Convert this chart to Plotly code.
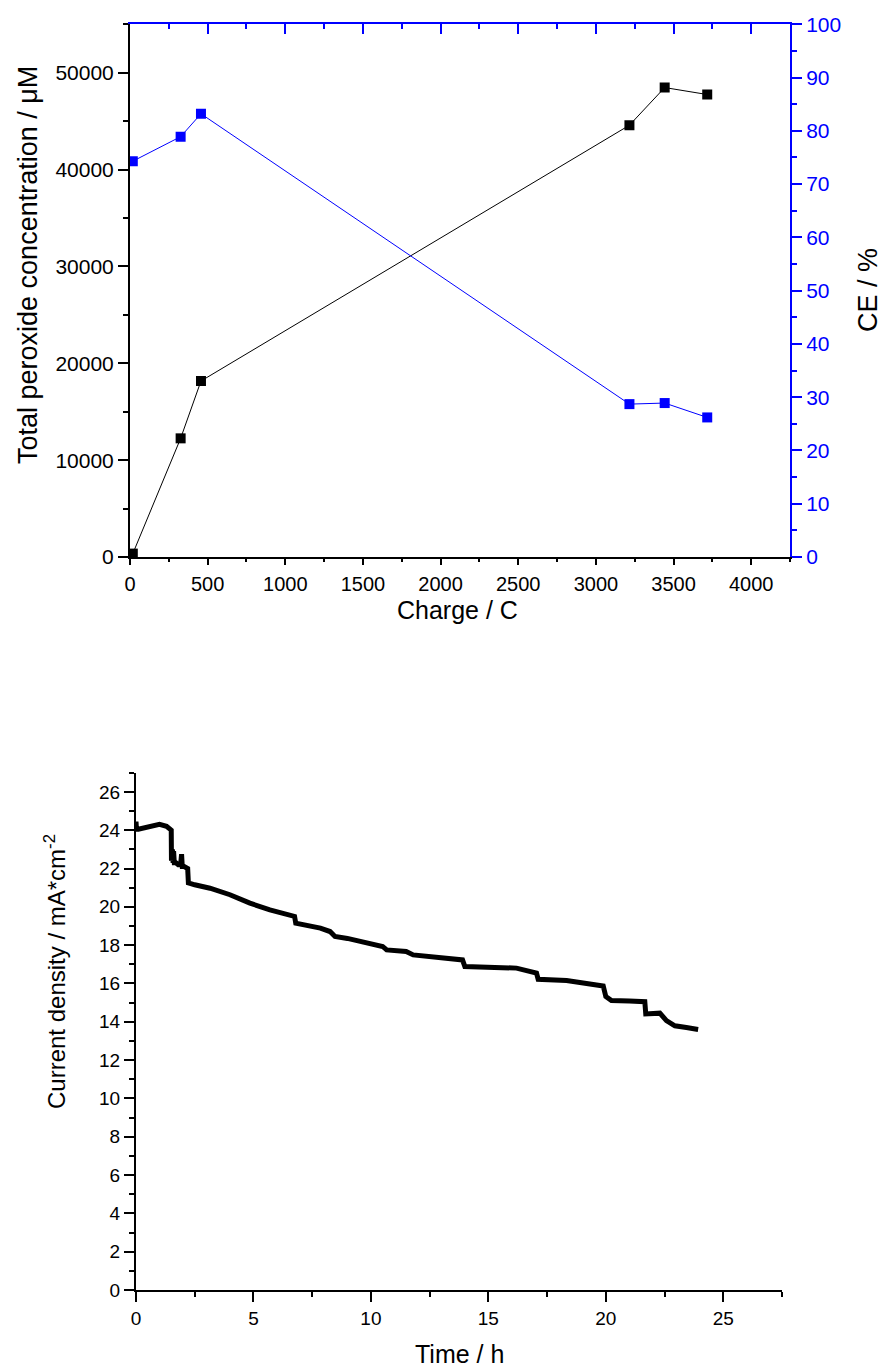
import plotly.graph_objects as go

# ---- top panel data ----
charge = [18, 326, 457, 3216, 3443, 3717]
peroxide = [350, 12250, 18170, 44580, 48470, 47750]
ce = [74.3, 78.9, 83.2, 28.7, 28.9, 26.2]

# ---- bottom panel data ----
time_h = [0, 0.02, 0.1, 0.5, 1.0, 1.3, 1.5, 1.51, 1.55, 1.58, 1.6, 1.63, 1.7, 1.8, 1.9,
          1.94, 1.97, 2.05, 2.2, 2.23, 2.5, 3.15, 4.0, 4.85, 5.7, 6.55, 6.75, 6.8, 7.4,
          7.85, 8.26, 8.47, 9.0, 9.53, 10.5, 10.67, 11.5, 11.8, 12.5, 13.07, 13.9, 14.0,
          15.0, 16.2, 17.05, 17.12, 18.33, 19.0, 19.89, 20.0, 20.24, 21.0, 21.66, 21.7,
          22.3, 22.58, 22.94, 23.43, 23.93]
current = [24.45, 24.05, 24.05, 24.15, 24.3, 24.2, 24.0, 22.4, 23.0, 22.3, 22.9, 22.3,
           22.3, 22.2, 22.2, 22.75, 22.1, 22.1, 22.0, 21.25, 21.15, 20.97, 20.63, 20.19,
           19.84, 19.58, 19.5, 19.15, 19.0, 18.89, 18.71, 18.45, 18.35, 18.19, 17.93,
           17.75, 17.67, 17.49, 17.4, 17.32, 17.23, 16.88, 16.85, 16.8, 16.54, 16.22,
           16.15, 16.05, 15.87, 15.32, 15.11, 15.08, 15.05, 14.41, 14.45, 14.06, 13.79,
           13.7, 13.6]

FONT = "Liberation Sans, Arial, sans-serif"
BLUE = "#0000ff"
W, H = 882, 1370

fig = go.Figure()

fig.add_trace(go.Scatter(x=charge, y=peroxide, mode="lines+markers",
                         line=dict(color="black", width=1),
                         marker=dict(symbol="square", size=10, color="black"),
                         xaxis="x", yaxis="y", showlegend=False))
fig.add_trace(go.Scatter(x=charge, y=ce, mode="lines+markers",
                         line=dict(color=BLUE, width=1),
                         marker=dict(symbol="square", size=10, color=BLUE),
                         xaxis="x", yaxis="y2", showlegend=False))
# invisible trace so the top blue axis is drawn
fig.add_trace(go.Scatter(x=[charge[0]], y=[peroxide[0]], mode="markers",
                         marker=dict(opacity=0), xaxis="x3", yaxis="y",
                         showlegend=False, hoverinfo="skip"))
fig.add_trace(go.Scatter(x=time_h, y=current, mode="lines",
                         line=dict(color="black", width=5),
                         xaxis="x2", yaxis="y3", showlegend=False))

tickfont_top = dict(family=FONT, size=21, color="black")
tickfont_bot = dict(family=FONT, size=19, color="black")

xd_top = [130 / W, 790 / W]
yd_top = [(H - 557) / H, (H - 24.3) / H]
xd_bot = [136 / W, 782 / W]
yd_bot = [(H - 1290) / H, (H - 772.7) / H]

common = dict(showgrid=False, zeroline=False, showline=True, linewidth=2,
              tickwidth=1.5, automargin=False)

fig.update_layout(
    width=W, height=H,
    margin=dict(l=0, r=0, t=0, b=0),
    paper_bgcolor="white", plot_bgcolor="white",
    font=dict(family=FONT, color="black"),
    xaxis=dict(domain=xd_top, anchor="y", range=[0, 4250], linecolor="black",
               ticks="outside", ticklen=6, tickcolor="black", tickformat="d",
               tick0=0, dtick=500, tickfont=dict(family=FONT, size=20, color="black"),
               ticklabelstandoff=2,
               minor=dict(ticks="outside", ticklen=3, dtick=250, tickcolor="black", tickwidth=1.5),
               **common),
    xaxis3=dict(domain=xd_top, anchor="y", overlaying="x", side="top", range=[0, 4250],
                linecolor=BLUE, ticks="inside", ticklen=10, tickcolor=BLUE,
                tick0=0, dtick=500, showticklabels=False,
                minor=dict(ticks="inside", ticklen=5, dtick=250, tickcolor=BLUE, tickwidth=1.5),
                **common),
    yaxis=dict(domain=yd_top, anchor="x", range=[0, 55000], linecolor="black",
               ticks="outside", ticklen=10, tickcolor="black", tickformat="d",
               tick0=0, dtick=10000, tickfont=tickfont_top,
               minor=dict(ticks="outside", ticklen=5, dtick=5000, tickcolor="black", tickwidth=1.5),
               **common),
    yaxis2=dict(domain=yd_top, anchor="x", overlaying="y", side="right", range=[0, 100],
                linecolor=BLUE, ticks="outside", ticklen=10, tickcolor=BLUE,
                tick0=0, dtick=10, tickfont=dict(family=FONT, size=21, color=BLUE),
                minor=dict(ticks="outside", ticklen=5, dtick=5, tickcolor=BLUE, tickwidth=1.5),
                **common),
    xaxis2=dict(domain=xd_bot, anchor="y3", range=[0, 27.5], linecolor="black",
                ticks="outside", ticklen=10, tickcolor="black",
                tick0=0, dtick=5, tickfont=tickfont_bot,
                minor=dict(ticks="outside", ticklen=5, dtick=2.5, tickcolor="black", tickwidth=1.5),
                **common),
    yaxis3=dict(domain=yd_bot, anchor="x2", range=[0, 27], linecolor="black",
                ticks="outside", ticklen=10, tickcolor="black",
                tick0=0, dtick=2, tickfont=tickfont_bot,
                minor=dict(ticks="outside", ticklen=5, dtick=1, tickcolor="black", tickwidth=1.5),
                **common),
)


def title(text, px, py, size, angle=0, color="black"):
    fig.add_annotation(text=text, xref="paper", yref="paper", x=px / W, y=1 - py / H,
                       xanchor="center", yanchor="middle", showarrow=False,
                       textangle=angle, font=dict(family=FONT, size=size, color=color))


title("Charge / C", 458, 610, 25)
title("Total peroxide concentration / μM", 28, 265, 27, -90)
title("CE / %", 868, 290, 27, -90)
title("Time / h", 459, 1354, 25)
title("Current density / mA*cm<sup>-2</sup>", 55, 972, 24, -90)

fig.write_html("out.html")
